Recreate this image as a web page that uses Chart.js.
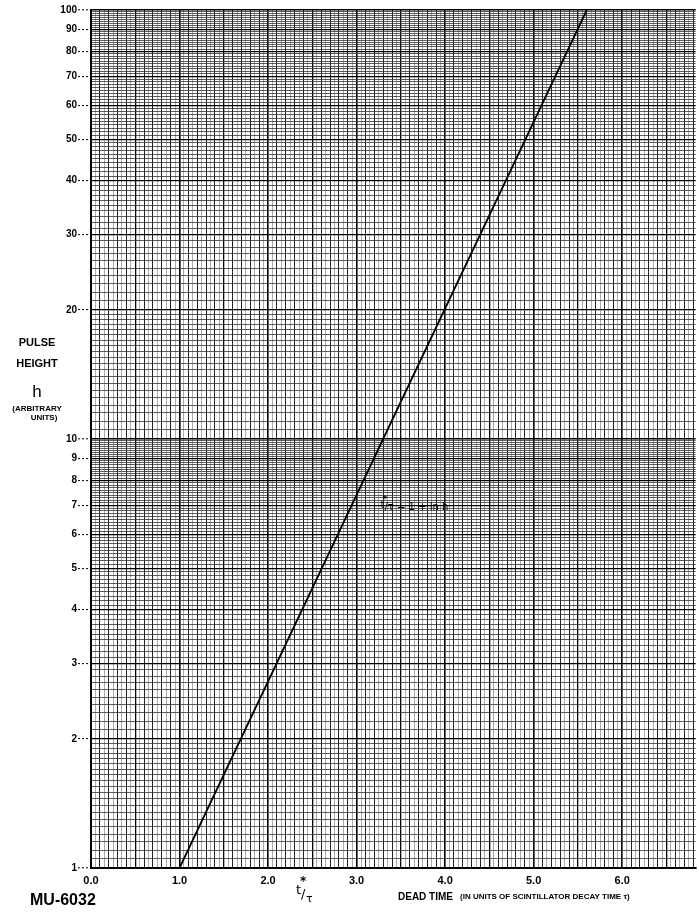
<!DOCTYPE html>
<html>
<head>
<meta charset="utf-8">
<script src="https://cdn.jsdelivr.net/npm/chart.js@4"></script>
<style>
  html, body { margin: 0; padding: 0; background: #fff; }
  #wrap { width: 699px; height: 913px; position: relative; }
</style>
</head>
<body>
<div id="wrap"><canvas id="deadTimeChart"></canvas></div>
<script>
// curve t*/tau = 1 + ln h
const curveX = [1.0, 3.3, 5.6];
const curveH = [1, 10, 100];

// axis ticks / labels
const xLabelValues = [0, 1, 2, 3, 4, 5, 6];
const xLabels = ['0.0', '1.0', '2.0', '3.0', '4.0', '5.0', '6.0'];
const yLabelValues = [1, 2, 3, 4, 5, 6, 7, 8, 9, 10, 20, 30, 40, 50, 60, 70, 80, 90, 100];
const yLabels = ['1', '2', '3', '4', '5', '6', '7', '8', '9', '10', '20', '30', '40', '50', '60', '70', '80', '90', '100'];

const X_MAX = 6.83;

// graph paper rulings
function buildXGrid() {
    const out = [];
    for (let i = 0; i <= Math.floor(X_MAX * 20); i++) out.push({ value: i / 20 });
    return out;
}
function buildYGrid() {
    const out = [];
    [1, 10].forEach(dec => {
        for (let i = 0; i < 20; i++) out.push(dec * (1 + i * 0.05));
        for (let v = 20; v < 50; v++) out.push(dec * v / 10);
        for (let v = 50; v < 100; v++) out.push(dec * v / 10);
    });
    out.push(100);
    return out.map(v => ({ value: Math.round(v * 1000) / 1000 }));
}

const near = (a, b) => Math.abs(a - b) < 1e-6;

const textPlugin = {
    id: 'paperText',
    afterDraw(chart) {
        const ctx = chart.ctx;
        const xs = chart.scales.x, ys = chart.scales.y;
        ctx.save();
        ctx.fillStyle = '#000';
        ctx.textBaseline = 'middle';

        // left axis title
        ctx.textAlign = 'center';
        ctx.font = 'bold 11px "Liberation Sans", Arial';
        ctx.fillText('PULSE', 37, 343);
        ctx.fillText('HEIGHT', 37, 364);
        ctx.font = '17px "Liberation Sans", Arial';
        ctx.fillText('h', 37, 392);
        ctx.font = 'bold 8px "Liberation Sans", Arial';
        ctx.fillText('(ARBITRARY', 37, 409);
        ctx.fillText('UNITS)', 44, 418);

        // bottom captions
        ctx.textAlign = 'left';
        ctx.font = 'bold 16px "Liberation Sans", Arial';
        ctx.fillText('MU-6032', 30, 901);
        ctx.font = 'bold 10px "Liberation Sans", Arial';
        ctx.fillText('DEAD TIME', 398, 897);
        ctx.font = 'bold 8px "Liberation Sans", Arial';
        ctx.fillText('(IN UNITS OF SCINTILLATOR DECAY TIME \u03C4)', 460, 897);

        // t*/tau under the axis
        ctx.font = '13px "DejaVu Sans", sans-serif';
        ctx.fillText('t', 296, 891);
        ctx.fillText('/', 301, 895);
        ctx.font = '11px "DejaVu Sans", sans-serif';
        ctx.fillText('\u03C4', 306, 899);
        ctx.font = 'bold 12px "DejaVu Sans", sans-serif';
        ctx.fillText('*', 300, 882);

        // equation by the line
        const ex = xs.getPixelForValue(3.27), ey = ys.getPixelForValue(7.0);
        ctx.font = '10px "DejaVu Sans", sans-serif';
        ctx.fillText('t', ex, ey);
        ctx.font = 'bold 9px "DejaVu Sans", sans-serif';
        ctx.fillText('*', ex + 2, ey - 6);
        ctx.font = '10px "DejaVu Sans", sans-serif';
        ctx.fillText('/\u03C4 = 1 + ln h', ex + 4, ey + 2);
        ctx.restore();
    }
};

new Chart(document.getElementById('deadTimeChart'), {
    type: 'scatter',
    data: {
        datasets: [{
            data: curveX.map((x, i) => ({ x: x, y: curveH[i] })),
            showLine: true,
            borderColor: '#000',
            borderWidth: 1.8,
            pointRadius: 0,
            fill: false
        }]
    },
    options: {
        responsive: true,
        maintainAspectRatio: false,
        animation: false,
        layout: { padding: { top: 10, right: 0, bottom: 0, left: 0 } },
        plugins: { legend: { display: false }, tooltip: { enabled: false } },
        scales: {
            x: {
                type: 'linear',
                min: 0,
                max: X_MAX,
                afterBuildTicks: scale => { scale.ticks = buildXGrid(); },
                afterFit: scale => { scale.height = 45; },
                border: { color: '#000', width: 2 },
                grid: {
                    drawTicks: false,
                    color: c => {
                        const v = c.tick ? c.tick.value : 0;
                        if (near(v * 2, Math.round(v * 2))) return '#000';
                        if (near(v * 10, Math.round(v * 10))) return '#222';
                        return '#777';
                    },
                    lineWidth: c => {
                        const v = c.tick ? c.tick.value : 0;
                        if (near(v, Math.round(v))) return 1.6;
                        if (near(v * 2, Math.round(v * 2))) return 1.3;
                        if (near(v * 10, Math.round(v * 10))) return 1;
                        return 0.6;
                    }
                },
                ticks: {
                    autoSkip: false,
                    maxRotation: 0,
                    padding: 6,
                    color: '#000',
                    font: { family: '"Liberation Sans", Arial', size: 11, weight: 'bold' },
                    callback: v => {
                        const k = xLabelValues.findIndex(t => near(t, v));
                        return k >= 0 ? xLabels[k] : '';
                    }
                }
            },
            y: {
                type: 'logarithmic',
                min: 1,
                max: 100,
                afterBuildTicks: scale => { scale.ticks = buildYGrid(); },
                afterFit: scale => { scale.width = 91; },
                border: { color: '#000', width: 2 },
                grid: {
                    tickLength: 13,
                    tickBorderDash: [2, 2],
                    tickWidth: 1,
                    tickColor: c => {
                        const v = c.tick ? c.tick.value : 0;
                        return yLabelValues.some(t => near(t, v)) ? '#000' : 'rgba(0,0,0,0)';
                    },
                    color: c => {
                        const v = c.tick ? c.tick.value : 0;
                        return yLabelValues.some(t => near(t, v)) ? '#000' : '#333';
                    },
                    lineWidth: c => {
                        const v = c.tick ? c.tick.value : 0;
                        if (near(v, 1) || near(v, 10) || near(v, 100)) return 1.6;
                        return yLabelValues.some(t => near(t, v)) ? 1.2 : 0.8;
                    }
                },
                ticks: {
                    autoSkip: false,
                    padding: 1,
                    color: '#000',
                    font: { family: '"Liberation Sans", Arial', size: 10, weight: 'bold' },
                    callback: v => {
                        const k = yLabelValues.findIndex(t => near(t, v));
                        return k >= 0 ? yLabels[k] : '';
                    }
                }
            }
        }
    },
    plugins: [textPlugin]
});
</script>
</body>
</html>
